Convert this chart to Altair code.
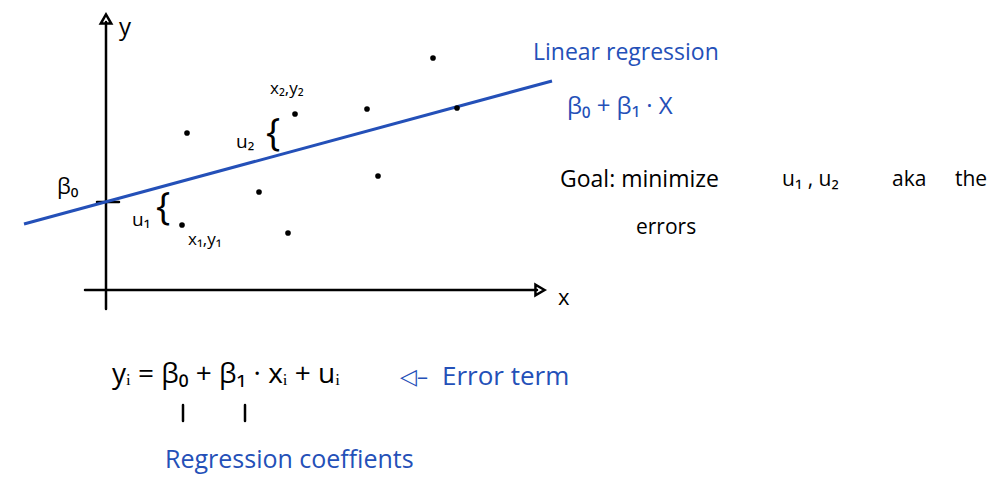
import altair as alt
import pandas as pd

BLUE = "#2450b8"
FONT = "Open Sans"

# scatter points (data coords: origin at the axis crossing)
pt_x = [81, 76, 153, 182, 261, 272, 327, 351, 189]
pt_y = [157, 65, 98, 57, 181, 114, 232, 182, 176]

# regression line endpoints
line_x = [-82, 446]
line_y = [66, 209]

# axes segments: (x, y, x2, y2)
seg_x = [0, -21, -9, 0, 77, 139]
seg_y = [-19, 0, 88, 0, -115, -115]
seg_x2 = [0, 431, 13, 0, 77, 139]
seg_y2 = [268, 0, 88, 0, -131, -131]

# arrow heads
arrow_x = [0, 434]
arrow_y = [271, 0]
arrow_shape = ["triangle-up", "triangle-right"]

# text labels
lab_text = ["y", "x", "β₀", "u₁", "x₁,y₁", "u₂", "x₂,y₂",
            "Linear regression", "β₀  +  β₁ · X",
            "Goal: minimize", "u₁ , u₂", "aka", "the", "errors",
            "yᵢ = β₀ + β₁ · xᵢ + uᵢ", "◁–", "Error term",
            "Regression coeffients"]
lab_x = [13, 452, -49, 26, 82, 130, 164, 427, 461, 454, 676, 786, 849, 530,
         6, 294, 336, 59]
lab_y = [262, -8, 103, 70, 50, 148, 201, 237, 183, 110, 110, 110, 110, 62,
         -85, -87, -87, -170]
lab_color = ["black"] * 7 + [BLUE, BLUE] + ["black"] * 6 + [BLUE, BLUE, BLUE]
lab_size = [24, 22, 22, 19, 17, 19, 17, 23, 24, 23, 21, 21, 21, 21,
            28, 22, 26, 25]

brace_text = ["{", "{"]
brace_x = [57, 167]
brace_y = [81, 155]

xs = alt.Scale(domain=[-106, 900], nice=False, zero=False)
ys = alt.Scale(domain=[-197, 290], nice=False, zero=False)

segs = pd.DataFrame({"x": seg_x, "y": seg_y, "x2": seg_x2, "y2": seg_y2})
axes = alt.Chart(segs).mark_rule(color="black", strokeWidth=2.5, strokeCap="round").encode(
    x=alt.X("x:Q", scale=xs, axis=None), y=alt.Y("y:Q", scale=ys, axis=None),
    x2="x2:Q", y2="y2:Q")

reg = alt.Chart(pd.DataFrame({"x": line_x, "y": line_y})).mark_line(
    color=BLUE, strokeWidth=3).encode(
    x=alt.X("x:Q", scale=xs, axis=None), y=alt.Y("y:Q", scale=ys, axis=None))

pts = alt.Chart(pd.DataFrame({"x": pt_x, "y": pt_y})).mark_point(
    filled=True, color="black", size=32, opacity=1).encode(
    x=alt.X("x:Q", scale=xs, axis=None), y=alt.Y("y:Q", scale=ys, axis=None))

arrows = alt.Chart(pd.DataFrame({"x": arrow_x, "y": arrow_y, "s": arrow_shape})).mark_point(
    filled=False, color="black", strokeWidth=2.5, size=110, opacity=1).encode(
    x=alt.X("x:Q", scale=xs, axis=None), y=alt.Y("y:Q", scale=ys, axis=None),
    shape=alt.Shape("s:N", scale=None))

labels = alt.Chart(pd.DataFrame({"t": lab_text, "x": lab_x, "y": lab_y,
                                 "c": lab_color, "s": lab_size})).mark_text(
    align="left", baseline="middle", font=FONT, fontWeight=500).encode(
    x=alt.X("x:Q", scale=xs, axis=None), y=alt.Y("y:Q", scale=ys, axis=None),
    text="t:N", color=alt.Color("c:N", scale=None), size=alt.Size("s:Q", scale=None))

braces = alt.Chart(pd.DataFrame({"t": brace_text, "x": brace_x, "y": brace_y})).mark_text(
    align="center", baseline="middle", font=FONT, fontSize=38, color="black").encode(
    x=alt.X("x:Q", scale=xs, axis=None), y=alt.Y("y:Q", scale=ys, axis=None), text="t:N")

chart = alt.layer(axes, reg, pts, arrows, labels, braces).properties(
    width=1006, height=487, padding=0, background="white",
    autosize=alt.AutoSizeParams(type="none")
).configure_view(stroke=None)

chart.save("out.html", embed_options={"renderer": "svg", "actions": False})
